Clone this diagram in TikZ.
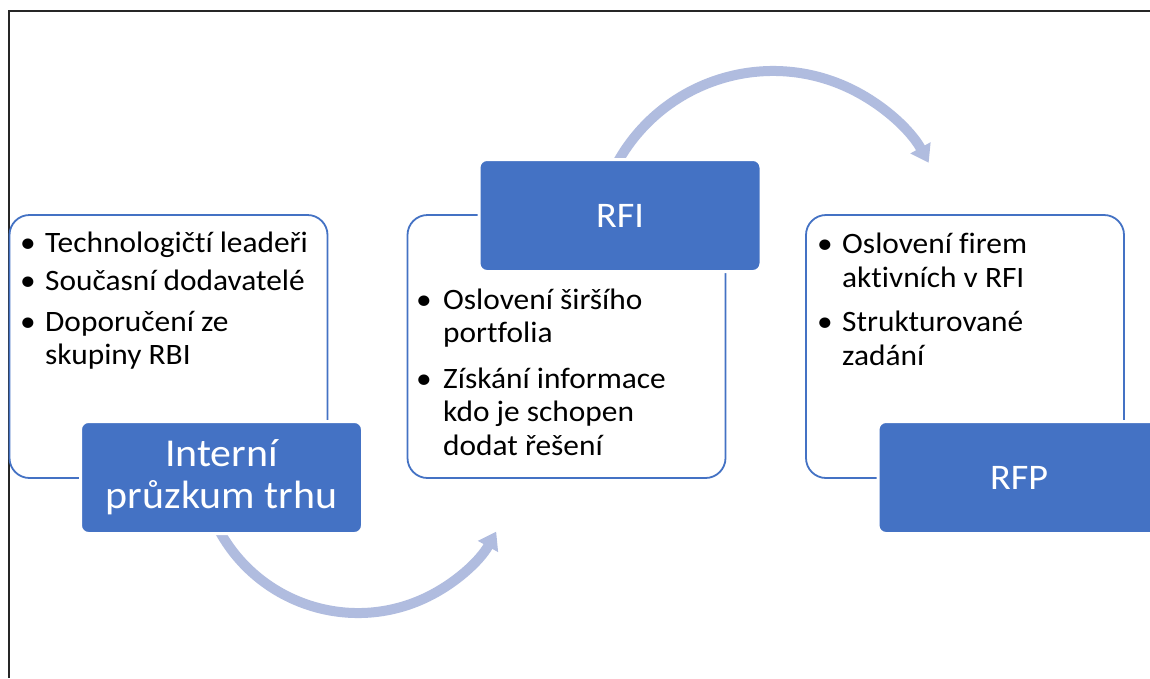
\documentclass[tikz,border=0pt]{standalone}
\usepackage{fontspec}
\setmainfont{Carlito}[FakeStretch=1.06, Ligatures=NoCommon]
\usetikzlibrary{arrows.meta}
\definecolor{accblue}{HTML}{4472C4}
\definecolor{arcblue}{HTML}{B0BCDF}
\begin{document}
\begin{tikzpicture}[x=1pt,y=-1pt,
  whitebox/.style={draw=accblue, line width=1.8pt, fill=white, rounded corners=20pt,
    minimum width=318pt, minimum height=263pt, inner sep=0pt},
  bluebox/.style={draw=white, line width=3pt, fill=accblue, rounded corners=8pt,
    minimum width=282pt, minimum height=112pt, text=white, align=center, inner sep=0pt},
  bul/.style={anchor=base, inner sep=0pt, font=\fontsize{29.6}{33.5}\selectfont},
  itemtext/.style={anchor=base west, inner sep=0pt, align=left, font=\fontsize{29.6}{33.5}\selectfont},
  arcarrow/.style={draw=arcblue, line width=10pt, -{Triangle[width=22pt,length=17pt]}}]
\clip (0,0) rectangle (1150,678);
\fill[white] (0,0) rectangle (1150,678);
% frame
\draw[line width=2pt, black!85] (8.5,678) -- (8.5,10.5) -- (1150,10.5);
% arcs
\coordinate (a1s) at ({358+158*cos(155)},{455+158*sin(155)});
\draw[arcarrow] (a1s) arc[start angle=155, end angle=29, radius=158];
\coordinate (a2s) at ({773+178*cos(205)},{249+178*sin(205)});
\draw[arcarrow] (a2s) arc[start angle=205, end angle=331, radius=178];
% white boxes
\node[whitebox] (w1) at (168.5,346.5) {};
\node[whitebox] (w2) at (566.5,346.5) {};
\node[whitebox] (w3) at (965,346.5) {};
% blue boxes
\node[bluebox, font=\fontsize{39.5}{42}\selectfont] (b1) at (221.5,477.5) {Interní\\průzkum trhu};
\node[bluebox, font=\fontsize{36}{40}\selectfont] (b2) at (620,215.5) {RFI};
\node[bluebox, font=\fontsize{36}{40}\selectfont] (b3) at (1019,477.5) {RFP};
% box 1 text (multi-line nodes are anchored at the baseline of their last line)
\node[bul] (w1b1) at (28,252) {•};
\node[itemtext] (w1t1) at (45,252) {Technologičtí leadeři};
\node[bul] (w1b2) at (28,290.5) {•};
\node[itemtext] (w1t2) at (45,290.5) {Současní dodavatelé};
\node[bul] (w1b3) at (28,331) {•};
\node[itemtext] (w1t3) at (45,364.5) {Doporučení ze\\skupiny RBI};
% box 2 text
\node[bul] (w2b1) at (424,309) {•};
\node[itemtext] (w2t1) at (443,342.5) {Oslovení širšího\\portfolia};
\node[bul] (w2b2) at (424,388) {•};
\node[itemtext] (w2t2) at (443,455) {Získání informace\\kdo je schopen\\dodat řešení};
% box 3 text
\node[bul] (w3b1) at (825,253.5) {•};
\node[itemtext] (w3t1) at (842,287) {Oslovení firem\\aktivních v RFI};
\node[bul] (w3b2) at (825,331.5) {•};
\node[itemtext] (w3t2) at (842,365) {Strukturované\\zadání};
\end{tikzpicture}
\end{document}
